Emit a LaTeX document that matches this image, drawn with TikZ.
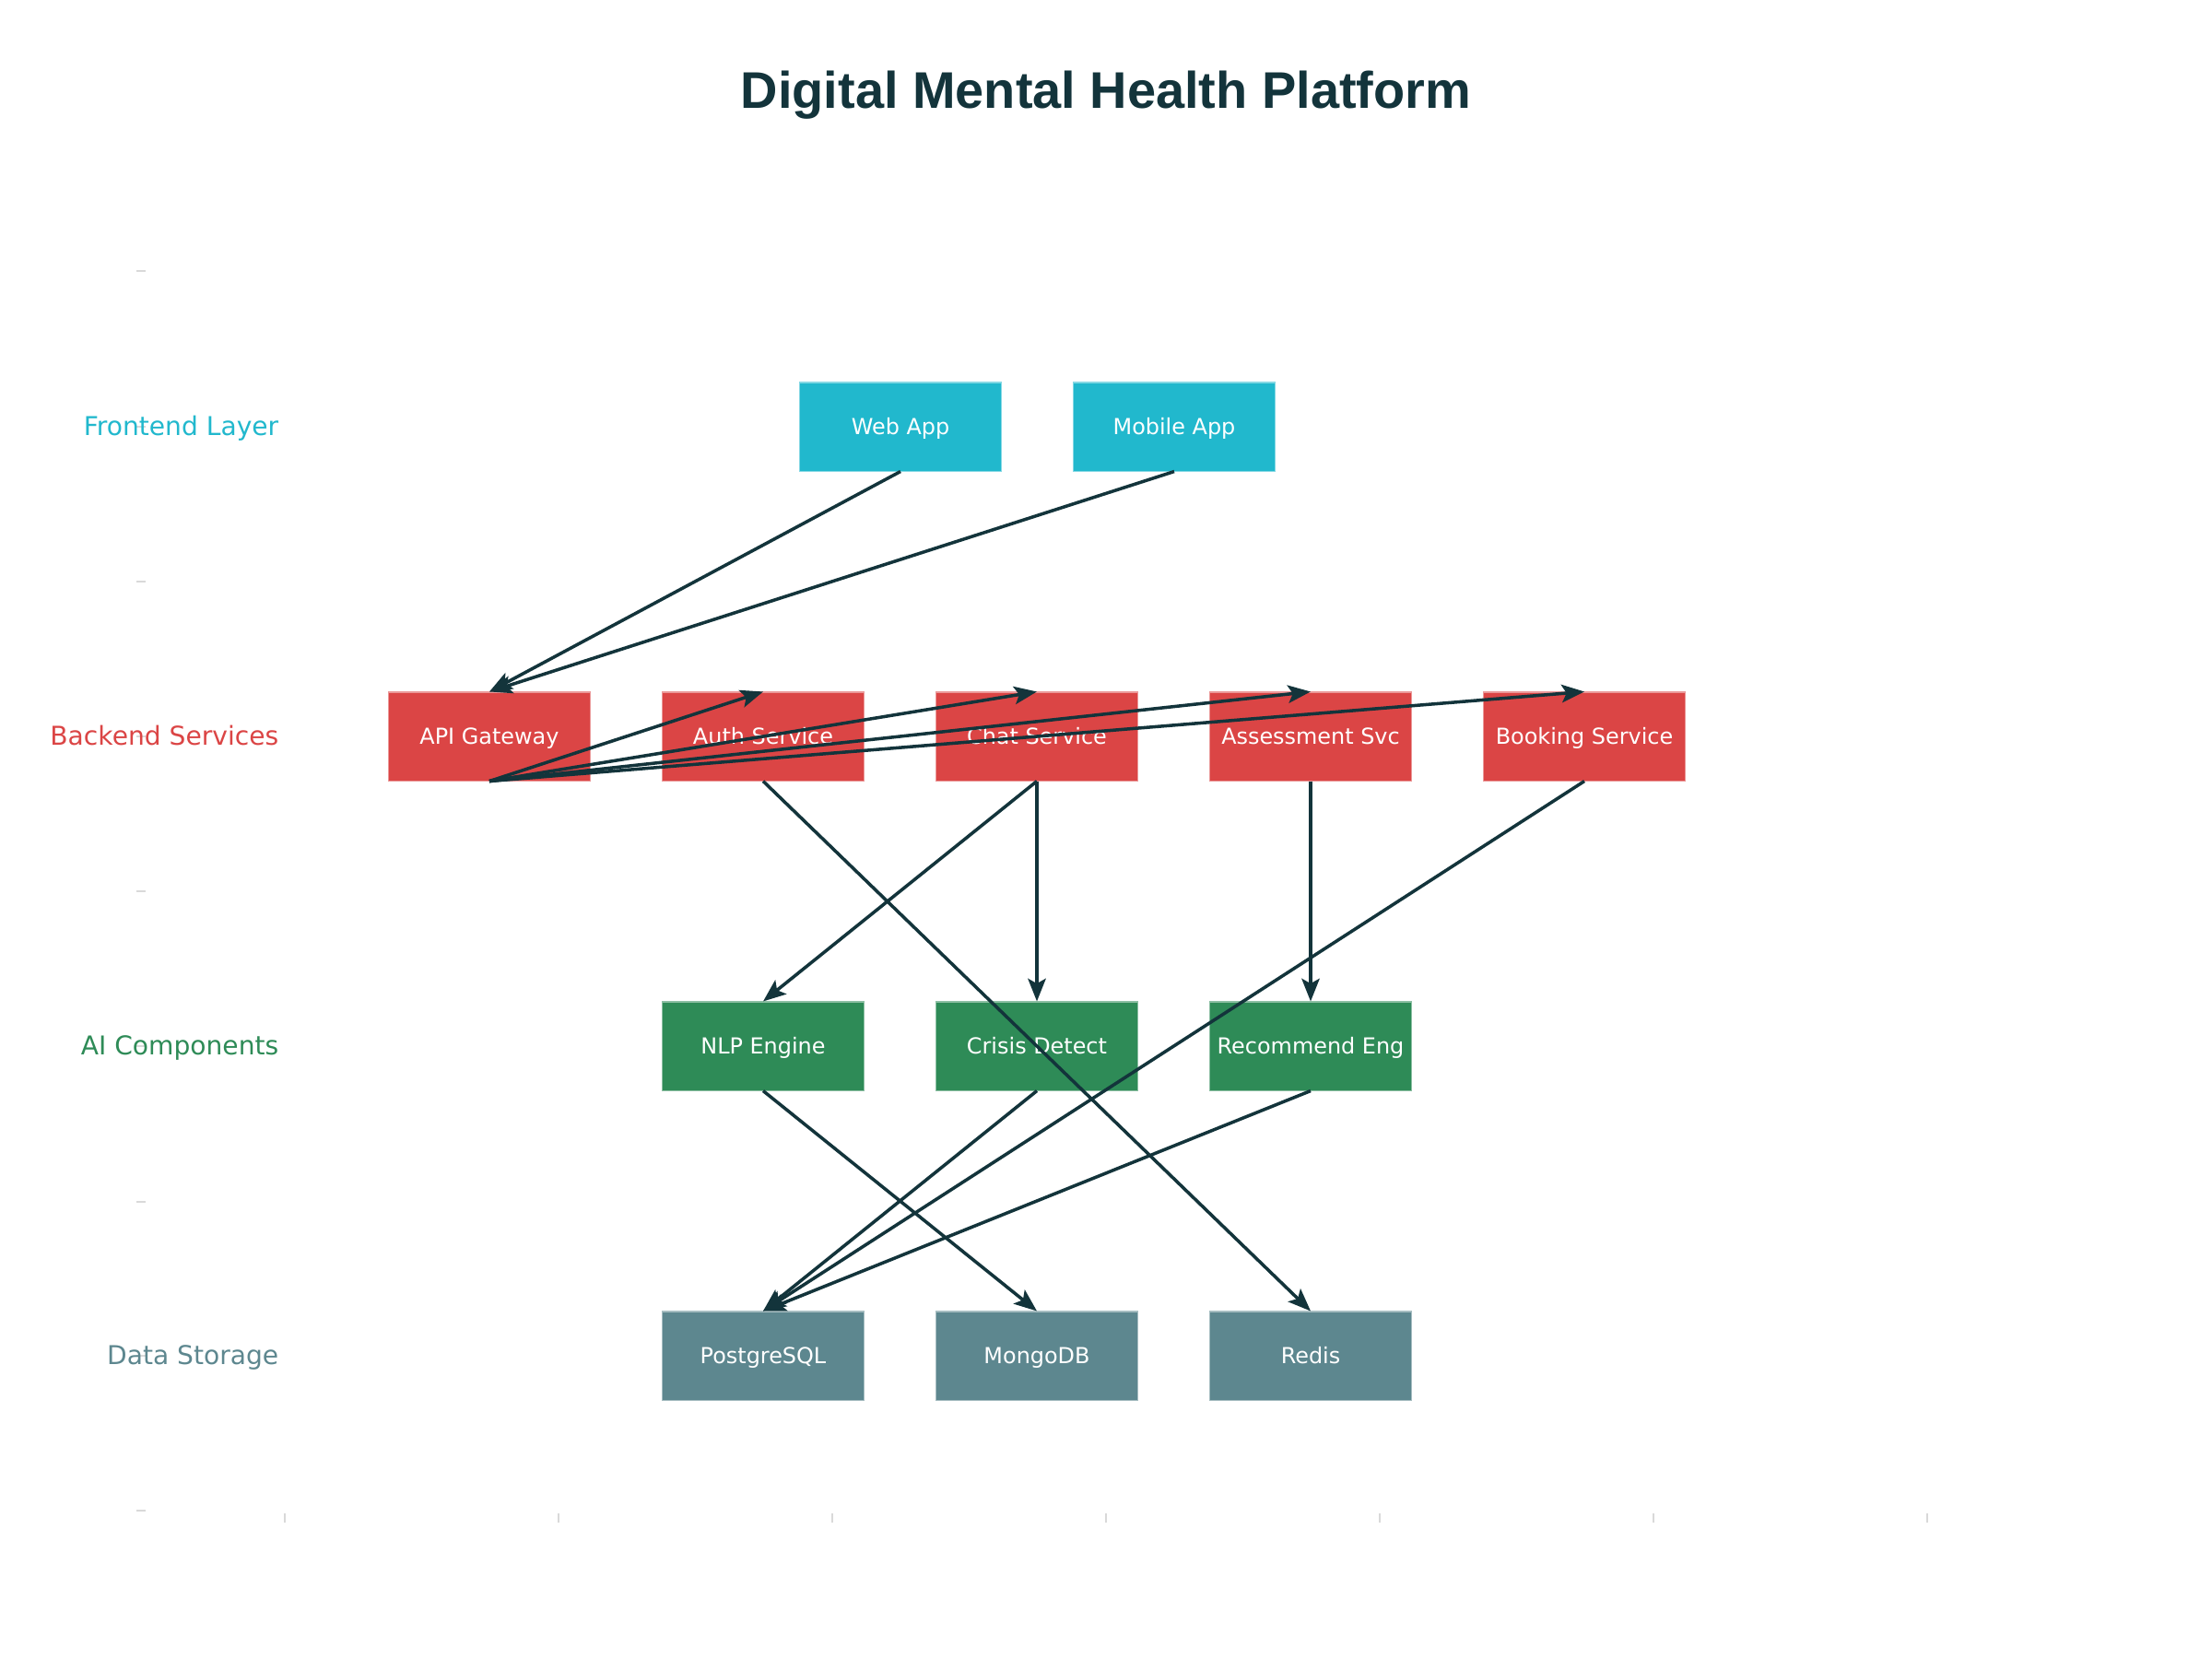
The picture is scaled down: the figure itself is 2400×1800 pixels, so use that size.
\documentclass[tikz,border=0pt]{standalone}
\usepackage{fontspec}
\setmainfont{DejaVu Sans}
\newfontfamily\titlefont{Liberation Sans}
\usetikzlibrary{arrows.meta}
\definecolor{cfront}{HTML}{21B8CD}
\definecolor{cback}{HTML}{DB4545}
\definecolor{cai}{HTML}{2E8B57}
\definecolor{cdata}{HTML}{5D878F}
\definecolor{cdark}{HTML}{13343B}
\definecolor{ctick}{HTML}{D9D9D9}
\tikzset{
  box/.style={draw=#1!55!white, line width=0.3pt, fill=#1, minimum width=2.19cm, minimum height=0.96cm,
    inner sep=0pt, text=white, font=\fontsize{6.8pt}{8pt}\selectfont, text height=6pt, text depth=1.4pt},
  layer/.style={anchor=east, text=#1, font=\fontsize{8pt}{9.6pt}\selectfont, text height=7pt, text depth=1.4pt, inner sep=0pt},
  edge/.style={draw=cdark, line width=1pt, -{Stealth[length=7pt,width=5.5pt,inset=1.5pt]}},
  tickmark/.style={draw=ctick, line width=0.6pt}
}
\begin{document}
\begin{tikzpicture}[x=0.01cm,y=-0.01cm]
\useasboundingbox (0,0) rectangle (2400,1800);
\fill[white] (0,0) rectangle (2400,1800);

% title
\node[anchor=base, text=cdark, font=\titlefont\bfseries\fontsize{15.9pt}{19pt}\selectfont, inner sep=0pt] (title) at (1200,118) {Digital Mental Health Platform};

% axis ticks
\foreach \yy in {294,463,631,799,967,1135,1304,1471,1639}
  \draw[tickmark] (148,\yy) -- (158,\yy);
\foreach \xx in {309,606,903,1200,1497,1794,2091}
  \draw[tickmark] (\xx,1642) -- (\xx,1652);

% layer labels
\node[layer=cfront] (lfront) at (303,463) {Frontend Layer};
\node[layer=cback]  (lback)  at (303,799) {Backend Services};
\node[layer=cai]    (lai)    at (303,1135) {AI Components};
\node[layer=cdata]  (ldata)  at (303,1471) {Data Storage};

% nodes
\node[box=cfront] (web)    at (977,463)  {Web App};
\node[box=cfront] (mobile) at (1274,463) {Mobile App};

\node[box=cback] (api)    at (531,799)  {API Gateway};
\node[box=cback] (auth)   at (828,799)  {Auth Service};
\node[box=cback] (chat)   at (1125,799) {Chat Service};
\node[box=cback] (assess) at (1422,799) {Assessment Svc};
\node[box=cback] (book)   at (1719,799) {Booking Service};

\node[box=cai] (nlp)    at (828,1135)  {NLP Engine};
\node[box=cai] (crisis) at (1125,1135) {Crisis Detect};
\node[box=cai] (rec)    at (1422,1135) {Recommend Eng};

\node[box=cdata] (pg)    at (828,1471)  {PostgreSQL};
\node[box=cdata] (mongo) at (1125,1471) {MongoDB};
\node[box=cdata] (redis) at (1422,1471) {Redis};

% edges
\draw[edge] (web.south) -- (api.north);
\draw[edge] (mobile.south) -- (api.north);
\draw[edge] (api.south) -- (auth.north);
\draw[edge] (api.south) -- (chat.north);
\draw[edge] (api.south) -- (assess.north);
\draw[edge] (api.south) -- (book.north);
\draw[edge] (auth.south) -- (redis.north);
\draw[edge] (chat.south) -- (nlp.north);
\draw[edge] (chat.south) -- (crisis.north);
\draw[edge] (assess.south) -- (rec.north);
\draw[edge] (book.south) -- (pg.north);
\draw[edge] (nlp.south) -- (mongo.north);
\draw[edge] (crisis.south) -- (pg.north);
\draw[edge] (rec.south) -- (pg.north);
\end{tikzpicture}
\end{document}
